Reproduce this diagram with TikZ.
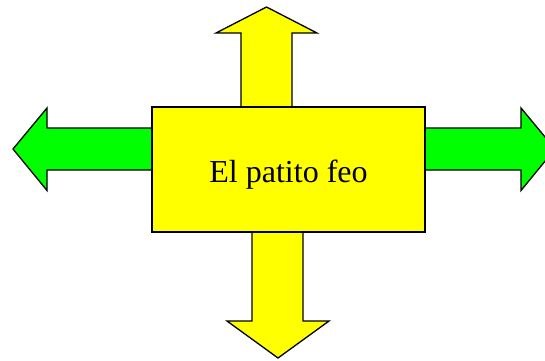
\documentclass[tikz,border=0pt]{standalone}
\usepackage{fontspec}
\setmainfont{Liberation Serif}
\usepackage{tikz}
\usetikzlibrary{positioning}

\tikzset{
	pfeil/.style={draw=black, line width=1.3pt, line join=miter},
	gelb/.style={pfeil, fill={rgb,255:red,255;green,255;blue,0}},
	gruen/.style={pfeil, fill={rgb,255:red,0;green,255;blue,0}},
}

\begin{document}
\begin{tikzpicture}[x=1pt, y=-1pt]
		\useasboundingbox (0,0) rectangle (545,360);
		\clip (0,0) rectangle (545,360);
		
		% Pfeile
		\draw[gelb] (241,110) -- (241,33) -- (216,33) -- (266.5,7) -- (317,33) -- (292,33) -- (292,110) -- cycle;
		\draw[gelb] (252,229) -- (252,321) -- (227,321) -- (278,358) -- (329,321) -- (303,321) -- (303,229) -- cycle;
		\draw[gruen] (155,128) -- (47,128) -- (47,108) -- (13,149) -- (47,190.5) -- (47,170) -- (155,170) -- cycle;
		\draw[gruen] (422,128) -- (521,128) -- (521,108) -- (555,149) -- (521,190.5) -- (521,170) -- (422,170) -- cycle;
		
		% Kasten
		\node[gelb, minimum width=273pt, minimum height=125pt, inner sep=0pt,
			font=\fontsize{32}{38}\selectfont, text height=26pt, text depth=0pt]
			(Patito) at (288.5,169.5) {El patito feo};
	\end{tikzpicture}
\end{document}
